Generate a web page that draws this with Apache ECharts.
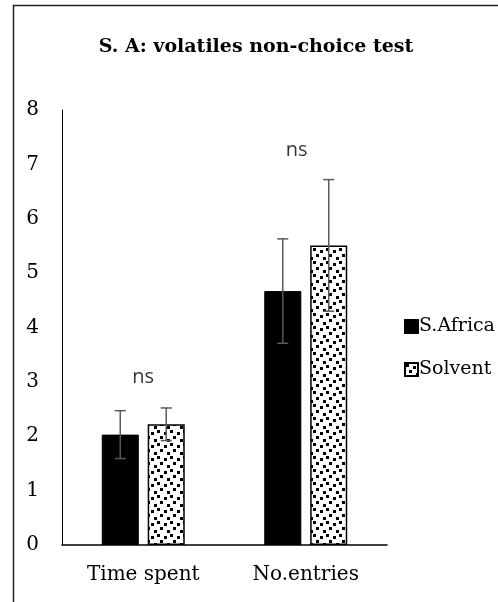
<!DOCTYPE html>
<html><head><meta charset="utf-8">
<script src="https://cdn.jsdelivr.net/npm/echarts@6/dist/echarts.min.js"></script>
<style>html,body{margin:0;padding:0;background:#fff}#c{width:498px;height:602px}</style>
</head><body><div id="c"></div>
<script>
var categories = ['Time spent', 'No.entries'];
var seriesNames = ['S.Africa', 'Solvent'];
var safricaValues = [2.03, 4.67];
var safricaErrors = [0.44, 0.96];
var solventValues = [2.22, 5.51];
var solventErrors = [0.30, 1.21];
var nsLabels = ['ns', 'ns'];
var nsHeights = [3.09, 7.26];
var yTicks = [0, 1, 2, 3, 4, 5, 6, 7, 8];

var tile = document.createElement('canvas');
tile.width = 13; tile.height = 13;
var g = tile.getContext('2d');
g.fillStyle = '#fff'; g.fillRect(0, 0, 13, 13);
g.fillStyle = '#000';
[[1,1],[8,3],[4,7],[11,10]].forEach(function(p){ g.fillRect(p[0], p[1], 3, 3); });
g.fillRect(0, 10, 1, 3);
var pattern = {image: tile, repeat: 'repeat'};

var serif = 'DejaVu Serif';
var chart = echarts.init(document.getElementById('c'), null, {renderer: 'canvas'});
var BW = 0.228, GAP = 0.24;
var nsOffsets = [[0, 0], [-9, 0]];

function errSeries(vals, errs, sign) {
  return {
    type: 'custom',
    silent: true,
    z: 10,
    data: vals.map(function(v, i){ return [i, v, errs[i]]; }),
    renderItem: function(params, api) {
      var i = api.value(0), v = api.value(1), e = api.value(2);
      var band = api.size([1, 0])[0];
      var off = sign * band * BW * (1 + GAP) / 2;
      var top = api.coord([i, v + e]);
      var bot = api.coord([i, v - e]);
      var x = top[0] + off;
      var st = {stroke: '#595959', lineWidth: 1.5};
      return {type: 'group', children: [
        {type: 'line', shape: {x1: x, y1: top[1], x2: x, y2: bot[1]}, style: st},
        {type: 'line', shape: {x1: x - 5.5, y1: top[1], x2: x + 5.5, y2: top[1]}, style: st},
        {type: 'line', shape: {x1: x - 5.5, y1: bot[1], x2: x + 5.5, y2: bot[1]}, style: st}
      ]};
    }
  };
}

chart.setOption({
  animation: false,
  backgroundColor: '#fff',
  title: {
    text: 'S. A: volatiles non-choice test',
    left: 251, top: 33, textAlign: 'center',
    textStyle: {fontFamily: serif, fontWeight: 'bold', fontSize: 19, color: '#000'}
  },
  graphic: [{
    type: 'rect', shape: {x: 13.5, y: 5.5, width: 700, height: 800},
    style: {fill: 'none', stroke: '#222', lineWidth: 1.5}, silent: true
  }],
  legend: {
    orient: 'vertical', left: 399, top: 312,
    itemWidth: 13, itemHeight: 13, itemGap: 24,
    icon: 'rect',
    textStyle: {fontFamily: serif, fontSize: 19, color: '#000', padding: [0, 0, 0, -4]},
    data: seriesNames
  },
  grid: {left: 62, right: 111, top: 110, bottom: 57},
  xAxis: {
    type: 'category', data: categories,
    axisLine: {lineStyle: {color: '#000', width: 1.5}},
    axisTick: {show: false},
    axisLabel: {fontFamily: serif, fontSize: 20, color: '#000', margin: 20}
  },
  yAxis: {
    type: 'value', min: 0, max: 8, interval: 1,
    axisLine: {show: true, lineStyle: {color: '#000', width: 1}},
    axisTick: {show: false},
    splitLine: {show: false},
    axisLabel: {fontFamily: serif, fontSize: 20, color: '#000', margin: 23,
      formatter: function(v){ return yTicks.indexOf(v) >= 0 ? String(v) : ''; }}
  },
  series: [
    {name: seriesNames[0], type: 'bar', data: safricaValues, barWidth: (BW*100)+'%', barGap: (GAP*100)+'%',
      itemStyle: {color: '#000', borderColor: '#000', borderWidth: 1}},
    {name: seriesNames[1], type: 'bar', data: solventValues, barWidth: (BW*100)+'%',
      itemStyle: {color: pattern, borderColor: '#000', borderWidth: 1.5}},
    errSeries(safricaValues, safricaErrors, -1),
    errSeries(solventValues, solventErrors, 1),
    {type: 'scatter', silent: true, symbolSize: 0,
      data: nsHeights.map(function(h, i){
        return {value: [i, h], label: {offset: nsOffsets[i]}};
      }),
      label: {show: true, position: 'inside', formatter: function(p){ return nsLabels[p.dataIndex]; },
        fontFamily: 'Open Sans', fontSize: 20, color: '#000', textBorderWidth: 0}}
  ]
});
</script></body></html>
